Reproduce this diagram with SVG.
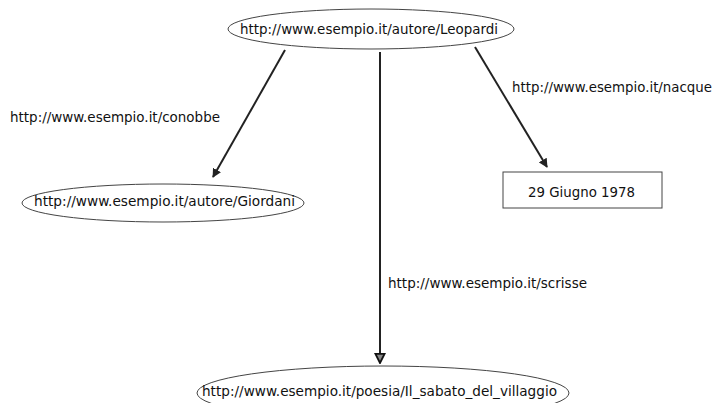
<svg xmlns="http://www.w3.org/2000/svg" width="716" height="403" viewBox="0 0 716 403">
<defs>
<style>
.n{fill:#fff;stroke:#444;stroke-width:1}
.t{font-family:"DejaVu Sans",sans-serif;font-size:14.5px;fill:#111}
.e{stroke:#222;stroke-width:2;fill:none}
</style>
<marker id="ah" viewBox="0 0 10 10" refX="9" refY="5" markerWidth="4.5" markerHeight="5" orient="auto" markerUnits="strokeWidth">
<path d="M0,0 L10,5 L0,10 z" fill="#222"/>
</marker>
<marker id="ah2" viewBox="0 0 12 12" refX="11" refY="6" markerWidth="5.5" markerHeight="6" orient="auto" markerUnits="strokeWidth">
<path d="M1,1 L11,6 L1,11 z" fill="#888" stroke="#111" stroke-width="2"/>
</marker>
</defs>
<rect width="716" height="403" fill="#fff"/>
<g id="edges">
<line class="e" x1="285" y1="50" x2="213" y2="177" marker-end="url(#ah)"/>
<line class="e" x1="380" y1="52" x2="380" y2="363" marker-end="url(#ah2)"/>
<line class="e" x1="475" y1="47" x2="547" y2="167" marker-end="url(#ah)"/>
<text class="t" x="10" y="122" textLength="210" lengthAdjust="spacingAndGlyphs">http://www.esempio.it/conobbe</text>
<text class="t" x="512" y="92" style="font-size:13.2px" textLength="200" lengthAdjust="spacingAndGlyphs">http://www.esempio.it/nacque</text>
<text class="t" x="388" y="288" textLength="199" lengthAdjust="spacingAndGlyphs">http://www.esempio.it/scrisse</text>
</g>
<g id="leopardi">
<ellipse class="n" cx="371" cy="29" rx="143" ry="20"/>
<text class="t" x="240" y="34" textLength="258" lengthAdjust="spacingAndGlyphs">http://www.esempio.it/autore/Leopardi</text>
</g>
<g id="giordani">
<ellipse class="n" cx="163" cy="203" rx="141" ry="19"/>
<text class="t" x="34" y="206" textLength="261" lengthAdjust="spacingAndGlyphs">http://www.esempio.it/autore/Giordani</text>
</g>
<g id="data">
<rect class="n" x="503" y="172" width="159" height="36"/>
<text class="t" x="528" y="197" textLength="107" lengthAdjust="spacingAndGlyphs">29 Giugno 1978</text>
</g>
<g id="sabato">
<ellipse class="n" cx="383" cy="393" rx="186" ry="27"/>
<text class="t" x="202" y="396" textLength="355" lengthAdjust="spacingAndGlyphs">http://www.esempio.it/poesia/Il_sabato_del_villaggio</text>
</g>
</svg>
